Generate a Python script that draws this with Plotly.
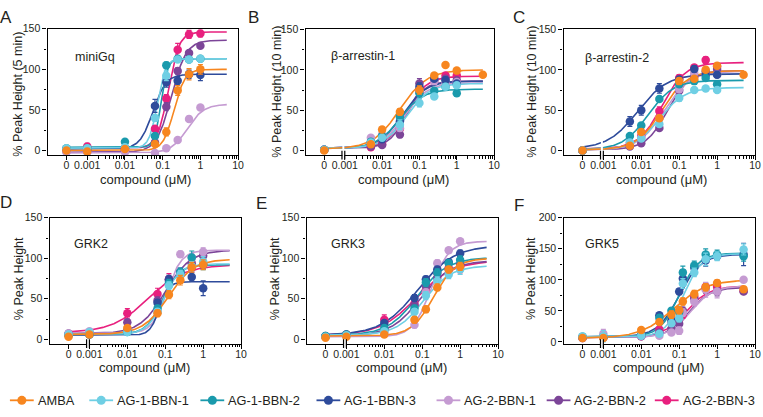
import numpy as np
import plotly.graph_objects as go

# ---------------- data ----------------
series = ["AMBA", "AG-1-BBN-1", "AG-1-BBN-2", "AG-1-BBN-3", "AG-2-BBN-1", "AG-2-BBN-2", "AG-2-BBN-3"]
colors = ["#F7861F", "#6FCFE4", "#1A9AAC", "#2E4B9B", "#C59BD2", "#7C4598", "#E8207E"]

panel_letters = ["A", "B", "C", "D", "E", "F"]
panel_names = ["miniGq", "β-arrestin-1", "β-arrestin-2", "GRK2", "GRK3", "GRK5"]
y_titles = ["% Peak Height (5 min)", "% Peak Height (10 min)", "% Peak Height (10 min)",
            "% Peak Height", "% Peak Height", "% Peak Height"]
x_tick_text = ["0", "0.001", "0.01", "0.1", "1", "10"]
x_tick_conc = [0, 0.001, 0.01, 0.1, 1, 10]

# concentrations (µM) per panel
A_conc = [0, 0.001, 0.01, 0.0625, 0.125, 0.25, 0.5, 1]
B_conc = [0, 0.005, 0.01, 0.03, 0.1, 0.25, 0.5, 1, 5]
C_conc = [0, 0.005, 0.01, 0.03, 0.1, 0.25, 0.5, 1, 5]
D_conc = [0, 0.001, 0.01, 0.0625, 0.125, 0.25, 0.5, 1]
E_conc = [0, 0.001, 0.01, 0.0625, 0.125, 0.25, 0.5, 1]
F_conc = [0, 0.001, 0.01, 0.03, 0.0625, 0.1, 0.125, 0.25, 0.5, 1, 5]

# mean responses, one row per series (order as `series`)
A_vals = [[0, -1, 2, 8, 23, 74, 94, 100],
          [3, 3, 4, 40, 92, 112, 112, 113],
          [3, 3, 11, 18, 105, 113, 112, 113],
          [2, 2, 3, 55, 84, 86, 94, 93],
          [-2, -2, -2, -3, 3, 13, 39, 53],
          [-1, -1, 0, 10, 54, 98, 120, 129],
          [2, 5, 3, 27, 64, 124, 143, 144]]
B_vals = [[0, 8, 26, 48, 75, 93, 106, 99, 94],
          [1, 10, 16, 32, 59, 67, 79, 81, None],
          [1, 11, 18, 42, 71, 74, 79, 71, None],
          [1, 10, 14, 36, 79, 89, 87, 83, None],
          [1, 16, 20, 28, 73, 86, 83, 85, None],
          [1, 5, 7, 20, 83, 87, 89, 87, None],
          [1, 4, 8, 27, 73, 88, 93, 93, None]]
C_vals = [[0, 6, 23, 40, 86, 89, 100, 105, 94],
          [0, 10, 15, 33, 65, 75, 77, 75, None],
          [0, 18, 31, 64, 82, 86, 90, 82, None],
          [0, 36, 50, 77, 88, 101, 94, 94, None],
          [0, 10, 16, 40, 76, 96, 94, 94, None],
          [0, 5, 9, 28, 74, 92, 98, 101, None],
          [0, 8, 18, 49, 90, 103, 112, 104, None]]
D_vals = [[3, 6, 14, 32, 55, 73, 89, 92],
          [6, 9, 9, 34, 66, 80, 90, 96],
          [5, 6, 9, 38, 69, 83, 101, 92],
          [5, 6, 10, 45, 74, 83, 77, 63],
          [7, 10, 12, 34, 68, 105, 101, 108],
          [7, 8, 21, 48, 72, 82, 94, 103],
          [6, 8, 32, 56, 74, 81, 88, 92]]
E_vals = [[2, 3, 6, 24, 37, 64, 86, 90],
          [3, 5, 10, 34, 54, 72, 80, 86],
          [4, 6, 14, 38, 70, 82, 94, 98],
          [4, 6, 20, 51, 74, 86, 95, 106],
          [3, 5, 8, 18, 58, 94, 110, 121],
          [3, 5, 12, 42, 66, 76, 86, 92],
          [3, 6, 24, 44, 60, 82, 88, 90]]
F_vals = [[6, 6, 19, 32, 44, 51, 65, 77, 88, 95, 85],
          [9, 9, 10, 13, 30, 38, 94, 112, 133, 138, 149],
          [8, 8, 11, 39, 50, 48, 112, 123, 141, 141, 138],
          [8, 8, 11, 43, 35, 81, 102, 120, 131, 138, 141],
          [7, 13, 10, 10, 15, 18, 47, 65, 84, 81, 100],
          [6, 7, 9, 15, 21, 29, 50, 70, 86, 81, 81],
          [6, 7, 9, 20, 31, 37, 44, 73, 89, 89, 82]]

# SEM error bars
A_err = [[0, 0, 1, 2, 5, 6, 7, 6], [0, 0, 1, 4, 6, 3, 3, 3], [0, 0, 2, 2, 4, 3, 3, 3],
         [0, 0, 1, 8, 6, 5, 5, 7], [0, 0, 0, 1, 2, 3, 3, 2], [0, 0, 0, 2, 5, 4, 3, 3],
         [0, 4, 1, 3, 5, 8, 5, 4]]
B_err = [[0, 2, 3, 4, 5, 3, 0, 0, 0], [0, 3, 3, 6, 5, 3, 3, 2, 0], [0, 2, 2, 4, 6, 3, 3, 3, 0],
         [0, 2, 2, 4, 5, 3, 4, 3, 0], [0, 3, 3, 4, 5, 3, 3, 3, 0], [0, 2, 2, 4, 6, 3, 3, 2, 0],
         [0, 2, 2, 4, 5, 3, 3, 3, 0]]
C_err = [[0, 2, 3, 4, 4, 3, 3, 3, 0], [0, 2, 3, 3, 4, 3, 3, 3, 0], [0, 3, 3, 3, 3, 3, 3, 3, 0],
         [0, 6, 6, 6, 4, 4, 4, 3, 0], [0, 2, 2, 3, 4, 3, 3, 3, 0], [0, 2, 2, 3, 4, 3, 3, 3, 0],
         [0, 2, 3, 5, 4, 3, 4, 3, 0]]
D_err = [[0, 1, 3, 4, 5, 6, 6, 6], [0, 1, 2, 4, 5, 5, 6, 6], [0, 1, 2, 4, 5, 5, 8, 6],
         [0, 1, 2, 4, 5, 5, 5, 9], [0, 1, 2, 4, 5, 4, 5, 5], [0, 1, 3, 4, 5, 5, 5, 5],
         [0, 1, 6, 7, 7, 6, 5, 5]]
E_err = [[0, 1, 1, 4, 4, 4, 4, 5], [0, 1, 2, 4, 5, 5, 5, 6], [0, 1, 2, 4, 5, 5, 4, 5],
         [0, 1, 3, 4, 4, 4, 3, 4], [0, 1, 2, 4, 4, 4, 3, 2], [0, 1, 2, 4, 4, 4, 4, 5],
         [0, 1, 6, 4, 4, 5, 4, 8]]
F_err = [[0, 1, 4, 4, 6, 6, 6, 6, 6, 5, 3], [0, 9, 2, 3, 5, 6, 8, 7, 10, 7, 9],
         [0, 2, 2, 4, 5, 5, 10, 7, 9, 7, 8], [0, 2, 2, 4, 5, 5, 8, 6, 9, 6, 18],
         [0, 7, 2, 3, 4, 6, 6, 7, 12, 10, 3], [0, 2, 2, 3, 4, 5, 6, 6, 8, 7, 3],
         [0, 2, 2, 3, 4, 5, 6, 6, 6, 5, 3]]

# four-parameter logistic fits: (bottom, top, EC50 µM, Hill slope)
A_fit = [(0, 100, 0.2, 3), (3, 113, 0.072, 4), (4, 113, 0.09, 5), (2, 94, 0.055, 2.5),
         (-3, 57, 0.45, 2), (-2, 136, 0.17, 2.2), (3, 146, 0.14, 3)]
B_fit = [(2, 100, 0.03, 1.2), (3, 83, 0.045, 1.4), (3, 76, 0.03, 1.4), (3, 86, 0.035, 1.4),
         (3, 84, 0.04, 1.4), (3, 86, 0.045, 1.8), (3, 92, 0.045, 1.6)]
C_fit = [(1, 99, 0.035, 1.3), (1, 78, 0.03, 1.3), (1, 87, 0.015, 1.3), (2, 95, 0.008, 1.1),
         (1, 98, 0.04, 1.3), (1, 99, 0.05, 1.5), (2, 109, 0.035, 1.4)]
D_fit = [(6, 99, 0.12, 1.3), (6, 93, 0.09, 2), (6, 92, 0.085, 2), (5, 71, 0.07, 3.5),
         (7, 110, 0.11, 2.2), (7, 110, 0.1, 1.3), (8, 92, 0.035, 0.9)]
E_fit = [(4, 100, 0.2, 1.5), (5, 91, 0.11, 1.2), (5, 101, 0.075, 1.1), (5, 116, 0.075, 0.9),
         (3, 121, 0.17, 1.8), (4, 97, 0.09, 1.1), (5, 97, 0.07, 0.9)]
F_fit = [(6, 100, 0.07, 1), (8, 142, 0.13, 1.8), (8, 143, 0.1, 1.7), (8, 141, 0.1, 1.5),
         (7, 90, 0.2, 1.5), (7, 88, 0.18, 1.5), (7, 90, 0.15, 1.4)]

y_ranges = [[-5.5, 150], [-5.5, 150], [-5.5, 150], [-5.5, 150], [-5.5, 150], [-3, 200]]
y_ticks = [[0, 50, 100, 150]] * 5 + [[0, 50, 100, 150, 200]]

# ---------------- layout geometry (pixels) ----------------
W, H = 763, 417
ZERO_POS = -3.55          # where "0" sits on the log axis
X_RANGE = [-4.05, 1.0]
boxes = [(48, 240, 23.3, 152.7), (308, 498, 24, 152.7), (568, 761, 24, 152.7),
         (50, 243, 217, 346), (309, 502, 217, 346), (568, 761, 217, 346)]
letter_pos = [(6, 12), (256, 12), (523, 12), (6, 201), (264, 202), (523, 204)]
name_pos = [(74, 52), (332, 51), (588, 53), (73, 244), (332, 244), (588, 244)]
xtitle_pos = [(147, 177.5), (407, 177.5), (667, 177.5), (146, 370.5), (405, 370.5), (664, 370.5)]
ytitle_pos = [(18, 90), (279, 88), (536, 88), (19, 279), (277, 279), (536, 279)]
broken = [False, True, True, True, True, True]
legend_x = [22, 102, 214, 331, 452, 563, 672]   # legend symbol centres (px)
LEGEND_Y = 404

concs = [A_conc, B_conc, C_conc, D_conc, E_conc, F_conc]
vals = [A_vals, B_vals, C_vals, D_vals, E_vals, F_vals]
errs = [A_err, B_err, C_err, D_err, E_err, F_err]
fits = [A_fit, B_fit, C_fit, D_fit, E_fit, F_fit]

FONT = "Liberation Sans, Arial, Helvetica, sans-serif"
TXT = "#231F20"


def pos(c):
    return ZERO_POS if c == 0 else float(np.log10(c))


def logistic(u, b, t, ec, h):
    return b + (t - b) / (1 + 10 ** ((np.log10(ec) - u) * h))


minor_vals = [float(np.log10(m * 10.0 ** d)) for d in range(-3, 1) for m in range(2, 10)]

fig = go.Figure()
layout = {}
annotations = []
shapes = []

for p in range(6):
    ax = "" if p == 0 else str(p + 1)
    xr, yr = "x" + ax, "y" + ax
    x0, x1, y0, y1 = boxes[p]
    layout["xaxis" + ax] = dict(
        domain=[x0 / W, x1 / W], anchor=yr, range=X_RANGE,
        tickvals=[pos(c) for c in x_tick_conc], ticktext=x_tick_text,
        ticks="outside", ticklen=4, tickwidth=1.2, tickcolor="black",
        ticklabelstandoff=-4,
        minor=dict(tickvals=minor_vals, ticklen=2.5, tickwidth=1, tickcolor="black", ticks="outside"),
        showline=True, linecolor="black", linewidth=1.4, mirror=True,
        showgrid=False, zeroline=False,
        tickfont=dict(family=FONT, size=10.5, color=TXT),
    )
    layout["yaxis" + ax] = dict(
        domain=[1 - y1 / H, 1 - y0 / H], anchor=xr, range=y_ranges[p],
        tickvals=y_ticks[p], ticks="outside", ticklen=4, tickwidth=1.2, tickcolor="black",
        minor=dict(dtick=25, ticklen=2.5, tickwidth=1, tickcolor="black", ticks="outside"),
        showline=True, linecolor="black", linewidth=1.4, mirror=True,
        showgrid=False, zeroline=False,
        tickfont=dict(family=FONT, size=10.5, color=TXT),
    )

    u = np.linspace(ZERO_POS, np.log10(5), 300)
    order = list(range(6, -1, -1))
    for s in order:
        b, t, ec, h = fits[p][s]
        fig.add_trace(go.Scatter(
            x=u, y=logistic(u, b, t, ec, h), mode="lines",
            line=dict(color=colors[s], width=1.6), xaxis=xr, yaxis=yr,
            showlegend=False, hoverinfo="skip"))
    for s in order:
        xs = [pos(c) for c in concs[p]]
        fig.add_trace(go.Scatter(
            x=xs, y=vals[p][s], mode="markers",
            marker=dict(color=colors[s], size=8.5, line=dict(width=0)),
            error_y=dict(type="data", array=errs[p][s], color=colors[s], thickness=1.2, width=2.5),
            xaxis=xr, yaxis=yr, showlegend=False, name=series[s]))

    # axis break marks
    if broken[p]:
        top = 0.12 if p in (1, 2) else 0.035
        shapes.append(dict(type="rect", xref=xr, yref=yr + " domain", x0=-3.065, x1=-3.012,
                           y0=-0.04, y1=top, fillcolor="white", line=dict(width=0), layer="above"))
        for xb in (-3.075, -3.0):
            shapes.append(dict(type="line", xref=xr, yref=yr + " domain", x0=xb, x1=xb,
                               y0=-0.035, y1=0.035, line=dict(color="black", width=1.2), layer="above"))

    lx, ly = letter_pos[p]
    annotations.append(dict(text=panel_letters[p], x=lx / W, y=1 - ly / H, xref="paper", yref="paper",
                            showarrow=False, xanchor="center", yanchor="middle",
                            font=dict(family=FONT, size=17, color=TXT)))
    nx, ny = name_pos[p]
    annotations.append(dict(text=panel_names[p], x=nx / W, y=1 - ny / H, xref="paper", yref="paper",
                            showarrow=False, xanchor="left", yanchor="middle",
                            font=dict(family=FONT, size=12.5, color=TXT)))
    tx, ty = xtitle_pos[p]
    annotations.append(dict(text="compound (μM)", x=tx / W, y=1 - ty / H, xref="paper", yref="paper",
                            showarrow=False, xanchor="center", yanchor="middle",
                            font=dict(family=FONT, size=13, color=TXT)))
    vx, vy = ytitle_pos[p]
    annotations.append(dict(text=y_titles[p], x=vx / W, y=1 - vy / H, xref="paper", yref="paper",
                            showarrow=False, xanchor="center", yanchor="middle", textangle=-90,
                            font=dict(family=FONT, size=12.5, color=TXT)))

# legend row (drawn by hand so spacing matches)
ly = 1 - LEGEND_Y / H
for s in range(7):
    mx = legend_x[s]
    shapes.append(dict(type="line", xref="paper", yref="paper", x0=(mx - 12) / W, x1=(mx + 12) / W,
                       y0=ly, y1=ly, line=dict(color=colors[s], width=1.8)))
    shapes.append(dict(type="circle", xref="paper", yref="paper",
                       x0=(mx - 4.6) / W, x1=(mx + 4.6) / W, y0=ly - 4.6 / H, y1=ly + 4.6 / H,
                       fillcolor=colors[s], line=dict(width=0)))
    annotations.append(dict(text=series[s], x=(mx + 14) / W, y=ly, xref="paper", yref="paper",
                            showarrow=False, xanchor="left", yanchor="middle",
                            font=dict(family=FONT, size=12.8, color=TXT)))

fig.update_layout(
    width=W, height=H, margin=dict(l=0, r=0, t=0, b=0),
    paper_bgcolor="white", plot_bgcolor="white",
    font=dict(family=FONT, color=TXT),
    showlegend=False,
    annotations=annotations, shapes=shapes,
    **layout,
)

fig.write_html("out.html", config={"displayModeBar": False},
               post_script="document.body.style.margin='0px';document.body.style.overflow='hidden';")
